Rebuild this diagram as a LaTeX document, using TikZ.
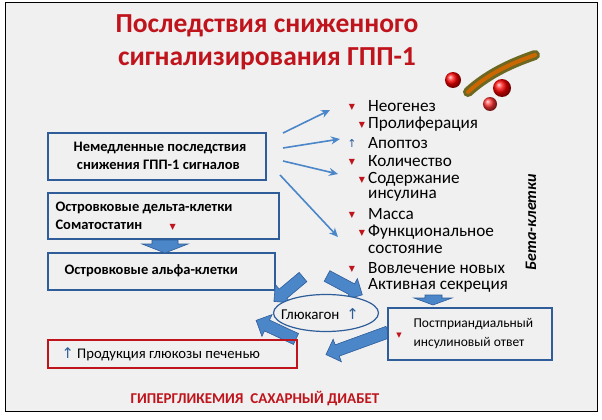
\documentclass[tikz,border=0pt]{standalone}
\usepackage{fontspec}
\setmainfont{Carlito}
\newfontfamily\dv{DejaVu Sans}
\usetikzlibrary{shapes.geometric,arrows.meta}
\definecolor{bx}{HTML}{2E5D9A}
\definecolor{ar}{HTML}{4A86C8}
\definecolor{rd}{HTML}{C0141C}
\tikzset{x=1pt,y=-1pt,
 box/.style={draw=bx,line width=1.2pt},
 lst/.style={anchor=west,font=\fontsize{17.2}{17}\selectfont,inner sep=0pt},
 thin/.style={draw=ar,line width=1.6pt,-{Stealth[length=9pt,width=8pt]}},
 blk/.style={draw=bx,fill=ar,line width=0.6pt}}
\newcommand{\blockarrow}[3]{% start, visual angle, length
 \begin{scope}[shift={#1},rotate=#2]
 \draw[blk] (0,-6)--(#3-12,-6)--(#3-12,-12)--(#3,0)--(#3-12,12)--(#3-12,6)--(0,6)--cycle;
 \end{scope}}
\begin{document}
\begin{tikzpicture}
\useasboundingbox (0,0) rectangle (602,420);
\fill[white] (0,0) rectangle (602,420);
\draw[fill=black!6,line width=1pt] (5,3) rectangle (597,411);
\node[text=rd,font=\fontsize{27.5}{33}\selectfont\bfseries,align=center] (title) at (267,42) {Последствия сниженного\\сигнализирования ГПП-1};
% molecule
\draw[line width=10pt,draw=olive!70!black,line cap=round] (468,92) .. controls (490,72) and (515,62) .. (535,55);
\draw[line width=4pt,draw=orange!80!black,line cap=round] (468,92) .. controls (490,72) and (515,62) .. (535,55);
\shade[ball color=red] (453,80) circle (8);
\shade[ball color=red] (502,88) circle (9);
\shade[ball color=red!80] (490,104) circle (7);
% boxes
\draw[box] (48,133) rectangle (266,180);
\node[font=\fontsize{14.5}{18}\selectfont\bfseries,align=left] (b1) at (160,156) {Немедленные последствия\\\ снижения ГПП-1 сигналов};
\draw[box] (48,193) rectangle (279,239);
\node[font=\fontsize{14.5}{18}\selectfont\bfseries,align=left,anchor=west] (b2) at (52,216) {Островковые дельта-клетки\\Соматостатин \hspace{24pt}\textcolor{rd}{\dv\fontsize{8}{8}\selectfont ▼}};
\draw[box] (48,253) rectangle (275,290);
\node[font=\fontsize{14.5}{14}\selectfont\bfseries,anchor=west] (b3) at (61,271) {Островковые альфа-клетки};
\draw[blk] (152,240) -- (178,240) -- (178,244)--(188,244)--(165,253)--(142,244)--(152,244)--cycle;
% list
\foreach \y/\t/\m/\mx in {106/Неогенез/d/352, 124/Пролиферация/d/362, 143/Апоптоз/u/352, 161/Количество/d/352, 179/Содержание/d/362, 196/инсулина/n/0, 214/Масса/d/352, 232/Функциональное/d/362, 249/состояние/n/0, 268/Вовлечение новых/d/352, 285/Активная секреция/n/0}{
  \node[lst] at (368,\y) {\t};
  \if\m d \node[text=rd,font=\dv\fontsize{8}{8}\selectfont] at (\mx,\y+1) {▼};\fi
  \if\m u \node[text=bx,font=\dv\fontsize{11}{11}\selectfont] at (\mx,\y) {↑};\fi
}
\node[rotate=90,font=\fontsize{16}{16}\selectfont\bfseries\itshape] (beta) at (531,222) {Бета-клетки};
\coordinate (t1) at (330,110); \coordinate (t2) at (340,139);
\coordinate (t3) at (338,174); \coordinate (t4) at (338,237);
\draw[thin] (283,133) -- (t1);
\draw[thin] (283,148) -- (t2);
\draw[thin] (283,161) -- (t3);
\draw[thin] (280,175) -- (t4);
% block arrows
\blockarrow{(303,277)}{220}{38}
\blockarrow{(327,276)}{-28}{40}
\blockarrow{(296,339)}{155}{44}
\blockarrow{(388,332)}{-160}{66}
\draw[blk] (425,295) -- (442,295) -- (442,298)--(452,298)--(433,305)--(414,298)--(425,298)--cycle;
% glucagon
\node[draw=bx,line width=1.2pt,ellipse,fill=black!6,minimum width=105pt,minimum height=37pt] (glu) at (326,313) {};
\node[font=\fontsize{15}{15}\selectfont] at (320,314) {Глюкагон\ \ \textcolor{bx}{\dv↑}};
\draw[box,fill=black!6] (388,308) rectangle (552,360);
\node[font=\fontsize{13.5}{19}\selectfont,align=left,anchor=west] (b4) at (410,334) {Постприандиальный\\инсулиновый ответ};
\node[text=rd,font=\dv\fontsize{7}{7}\selectfont] at (399,336) {▼};
\draw[draw=rd,line width=1.2pt] (48,340) rectangle (297,368);
\node[font=\fontsize{14.7}{15}\selectfont,anchor=west] (b5) at (58,354) {\textcolor{bx}{\dv↑} Продукция глюкозы печенью};
\node[text=rd,font=\fontsize{15}{15}\selectfont\bfseries] (hyp) at (255,399) {ГИПЕРГЛИКЕМИЯ\ \ САХАРНЫЙ ДИАБЕТ};
\end{tikzpicture}
\end{document}
